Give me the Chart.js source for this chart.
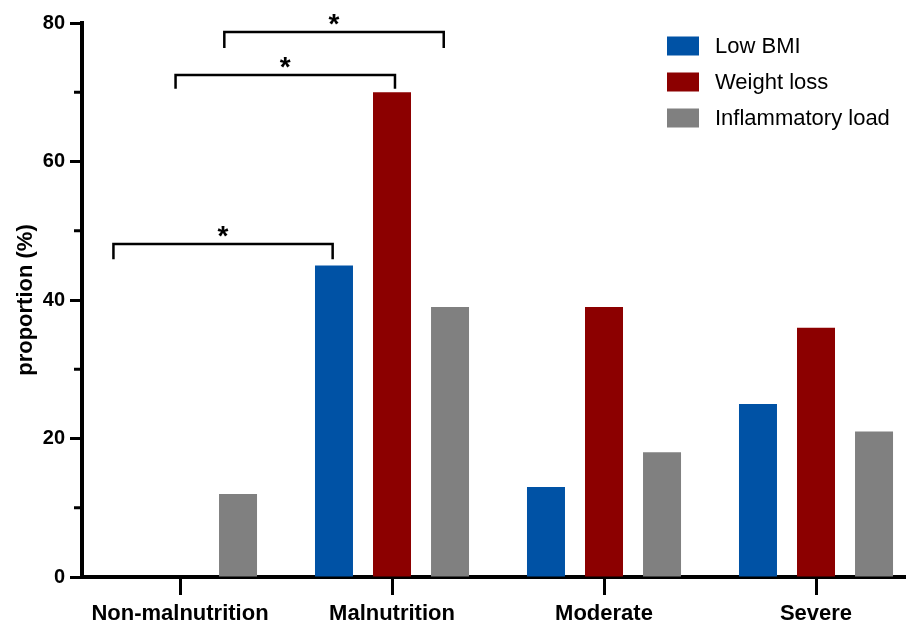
<!DOCTYPE html>
<html>
<head>
<meta charset="utf-8">
<script src="https://cdn.jsdelivr.net/npm/chart.js@4/dist/chart.umd.min.js"></script>
<style>
  html, body { margin: 0; padding: 0; background: #fff; }
  #wrap { width: 906px; height: 624px; }
</style>
</head>
<body>
<div id="wrap"><canvas id="propChart"></canvas></div>
<script>
const categories = ['Non-malnutrition', 'Malnutrition', 'Moderate', 'Severe'];
const lowBmi = [0, 45, 13, 25];
const weightLoss = [0, 70, 39, 36];
const inflammatoryLoad = [12, 39, 18, 21];
const yLabels = [0, 20, 40, 60, 80];
const minorTicks = [10, 30, 50, 70];

// significance brackets: [x from, x to, bar top, foot] in axis units
const brackets = [
  [-0.314, 0.72, 48.1, 45.9],
  [-0.021, 1.014, 72.5, 70.5],
  [0.209, 1.244, 78.7, 76.4]
];

const FONT = 'Arial, "Liberation Sans", sans-serif';
const ctx = document.getElementById('propChart').getContext('2d');

const toPoints = vals => vals.map((v, i) => ({ x: i, y: v }));

// kleine tussenstreepjes op de y-as
const minorTickPlugin = {
  id: 'minorTicks',
  afterDraw(chart) {
    const { ctx, chartArea, scales: { y } } = chart;
    ctx.save();
    ctx.strokeStyle = '#000';
    ctx.lineWidth = 3;
    minorTicks.forEach(v => {
      const py = y.getPixelForValue(v);
      ctx.beginPath();
      ctx.moveTo(74, py);
      ctx.lineTo(chartArea.left, py);
      ctx.stroke();
    });
    ctx.restore();
  }
};

// significantie haken met sterretje
const bracketPlugin = {
  id: 'sigBrackets',
  afterDatasetsDraw(chart) {
    const { ctx, scales: { x, y } } = chart;
    ctx.save();
    ctx.strokeStyle = '#000';
    ctx.lineWidth = 2.5;
    ctx.fillStyle = '#000';
    ctx.font = 'bold 28px ' + FONT;
    ctx.textAlign = 'center';
    ctx.textBaseline = 'alphabetic';
    brackets.forEach(([from, to, top, foot]) => {
      const x1 = x.getPixelForValue(from);
      const x2 = x.getPixelForValue(to);
      const yt = y.getPixelForValue(top);
      const yf = y.getPixelForValue(foot);
      ctx.beginPath();
      ctx.moveTo(x1, yf);
      ctx.lineTo(x1, yt);
      ctx.lineTo(x2, yt);
      ctx.lineTo(x2, yf);
      ctx.stroke();
      ctx.fillText('*', (x1 + x2) / 2, yt + 1);
    });
    ctx.restore();
  }
};

// legenda rechtsboven
const legendPlugin = {
  id: 'boxLegend',
  afterDraw(chart) {
    const { ctx } = chart;
    ctx.save();
    ctx.font = '22px ' + FONT;
    ctx.textAlign = 'left';
    ctx.textBaseline = 'middle';
    chart.data.datasets.forEach((ds, i) => {
      const cy = 46 + i * 36;
      ctx.fillStyle = ds.backgroundColor;
      ctx.fillRect(667, cy - 9.5, 32, 19);
      ctx.fillStyle = '#000';
      ctx.fillText(ds.label, 715, cy + 1);
    });
    ctx.restore();
  }
};

const propChart = new Chart(ctx, {
  type: 'bar',
  data: {
    datasets: [
      { label: 'Low BMI', data: toPoints(lowBmi), backgroundColor: '#0052A5' },
      { label: 'Weight loss', data: toPoints(weightLoss), backgroundColor: '#8C0000' },
      { label: 'Inflammatory load', data: toPoints(inflammatoryLoad), backgroundColor: '#808080' }
    ]
  },
  options: {
    responsive: true,
    maintainAspectRatio: false,
    animation: false,
    categoryPercentage: 0.821,
    barPercentage: 0.655,
    layout: { padding: { top: 23, right: 0, left: 0, bottom: 0 } },
    plugins: {
      legend: { display: false },
      tooltip: { enabled: false }
    },
    scales: {
      x: {
        type: 'linear',
        bounds: 'data',
        offset: false,
        min: -0.4623,
        max: 3.4245,
        afterBuildTicks: s => { s.ticks = categories.map((_, i) => ({ value: i })); },
        grid: { offset: false, drawOnChartArea: false, drawTicks: true, tickLength: 18, tickWidth: 3, tickColor: '#000' },
        border: { display: true, color: '#000', width: 4 },
        ticks: {
          autoSkip: false,
          maxRotation: 0,
          padding: 6,
          color: '#000',
          font: { size: 22, weight: 'bold', family: FONT },
          callback: v => categories[v] ?? ''
        },
        afterFit: s => { s.height = 47; }
      },
      y: {
        min: 0,
        max: 80,
        grid: {
          drawOnChartArea: false,
          tickLength: 12,
          tickWidth: 3,
          tickColor: c => (yLabels.includes(c.tick.value) ? '#000' : 'rgba(0,0,0,0)')
        },
        border: { display: true, color: '#000', width: 4 },
        ticks: {
          stepSize: 10,
          padding: 5,
          color: '#000',
          font: { size: 20, weight: 'bold', family: FONT },
          callback: v => (yLabels.includes(v) ? v : '')
        },
        title: {
          display: true,
          text: 'proportion (%)',
          color: '#000',
          font: { size: 22, weight: 'bold', family: FONT },
          padding: { top: 13, bottom: 0 }
        },
        afterFit: s => { s.width = 82; }
      }
    }
  },
  plugins: [minorTickPlugin, bracketPlugin, legendPlugin]
});
</script>
</body>
</html>
